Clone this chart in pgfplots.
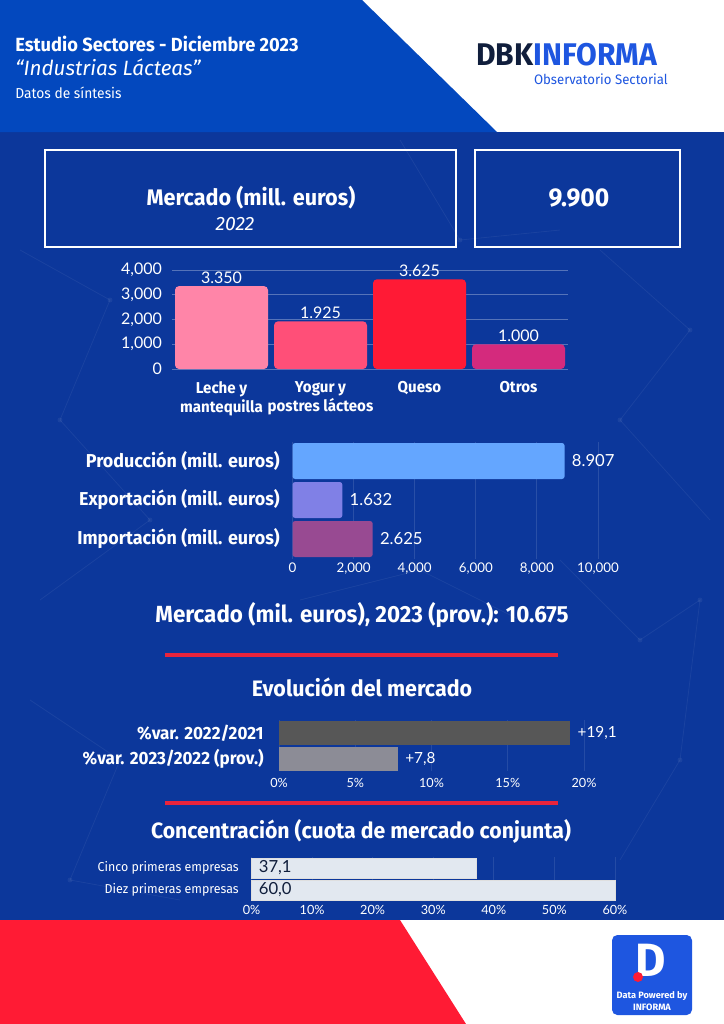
\documentclass[border=0pt]{standalone}
\usepackage{pgfplots}
\pgfplotsset{compat=1.18}
\usepackage{fontspec}
\setmainfont{Fira Sans}
\newfontfamily\cond[FakeStretch=0.96]{Fira Sans}
\newfontfamily\num{Lato}
\definecolor{topblue}{RGB}{3,72,190}
\definecolor{bgblue}{RGB}{12,55,155}
\definecolor{redb}{RGB}{255,27,52}
\definecolor{redline}{RGB}{232,36,60}
\definecolor{c1}{RGB}{255,133,168}
\definecolor{c2}{RGB}{255,79,120}
\definecolor{c3}{RGB}{255,26,53}
\definecolor{c4}{RGB}{212,42,125}
\definecolor{prod}{RGB}{100,166,255}
\definecolor{expo}{RGB}{128,128,230}
\definecolor{impo}{RGB}{152,74,146}
\definecolor{g1}{RGB}{87,87,87}
\definecolor{g2}{RGB}{140,140,150}
\definecolor{conc}{RGB}{226,232,240}
\definecolor{navy}{RGB}{16,30,60}
\definecolor{logoblue}{RGB}{30,86,224}
\pgfplotsset{
  base/.style={scale only axis, anchor=south west, clip=false,
    axis line style={draw=none}, major tick length=0pt,
    /pgf/number format/assume math mode=true,
    scaled x ticks=false, scaled y ticks=false},
}
\begin{document}
\begin{tikzpicture}[x=0.75pt,y=-0.75pt]
\useasboundingbox (0,0) rectangle (724,1024);
% backgrounds
\fill[white] (0,0) rectangle (724,1024);
\fill[bgblue] (0,132) rectangle (724,920);
% faint network texture
\begin{scope}[white, opacity=0.06, line width=0.6pt]
\draw (20,250) -- (110,300) -- (60,420) -- (150,520) -- (40,600);
\draw (600,250) -- (690,330) -- (620,420) -- (710,520);
\draw (560,560) -- (640,640) -- (700,600) -- (680,760) -- (620,860);
\draw (30,700) -- (120,760) -- (70,880) -- (180,900);
\draw (400,140) -- (460,240) -- (560,230);
\draw (300,600) -- (420,570) -- (520,620);
\foreach \p in {(110,300),(60,420),(150,520),(690,330),(620,420),(640,640),(700,600),(680,760),(120,760),(70,880),(460,240),(420,570)}
  \fill \p circle (2.5);
\end{scope}
\fill[topblue] (0,0) -- (362,0) -- (497,132) -- (0,132) -- cycle;
\fill[redb] (0,920) -- (400,920) -- (466,1024) -- (0,1024) -- cycle;
% header
\node[anchor=west, text=white, inner sep=0, font=\cond\bfseries\fontsize{14.3}{16}\selectfont] at (15,44) {Estudio Sectores - Diciembre 2023};
\node[anchor=west, text=white, inner sep=0, font=\itshape\fontsize{15.5}{17}\selectfont] at (15,67) {“Industrias Lácteas”};
\node[anchor=west, text=white, inner sep=0, font=\cond\fontsize{10.8}{12}\selectfont] at (15,93) {Datos de síntesis};
\node[anchor=west, inner sep=0, font=\cond\bfseries\fontsize{23.5}{24}\selectfont] at (476,55) {\textcolor{navy}{DBK}\textcolor{logoblue}{INFORMA}};
\node[anchor=east, inner sep=0, text=logoblue, font=\cond\fontsize{10.3}{11}\selectfont] at (668,79) {Observatorio Sectorial};
% boxes
\draw[white, line width=1.8pt] (45,150) rectangle (456,247);
\draw[white, line width=1.8pt] (475,150) rectangle (680,247);
\node[text=white, font=\cond\bfseries\fontsize{16.9}{18}\selectfont] at (251,198) {Mercado (mill. euros)};
\node[text=white, font=\itshape\fontsize{14.5}{16}\selectfont] at (235,224) {2022};
\node[text=white, font=\cond\bfseries\fontsize{19.3}{20}\selectfont] at (579,198) {9.900};
% titles and lines
\node[text=white, font=\cond\bfseries\fontsize{17.5}{19}\selectfont] at (362,615) {Mercado (mil. euros), 2023 (prov.): 10.675};
\draw[redline, line width=3pt] (165,655) -- (558,655);
\node[text=white, font=\cond\bfseries\fontsize{16.75}{18}\selectfont] at (362,687) {Evolución del mercado};
\draw[redline, line width=3pt] (165,803) -- (558,803);
\node[text=white, font=\cond\bfseries\fontsize{16.6}{18}\selectfont] at (361,831) {Concentración (cuota de mercado conjunta)};
% bottom logo
\fill[logoblue, rounded corners=4pt] (612,935) rectangle (692,1015);
\node[text=white, font=\bfseries\fontsize{35}{35}\selectfont, inner sep=0] at (651,960) {D};
\fill[redb] (638,977) circle (5);
\node[text=white, font=\bfseries\fontsize{6.9}{7}\selectfont, inner sep=0] at (652,996) {Data Powered by};
\node[text=white, font=\bfseries\fontsize{6.9}{7}\selectfont, inner sep=0] at (652,1007) {INFORMA};
% anchors
\coordinate (A1) at (172,369);
\coordinate (A2) at (292.5,558.5);
\coordinate (A3) at (279,771.25);
\coordinate (A4) at (251.5,901);
% chart 1
\begin{axis}[base, at={(A1)}, width=297pt, height=74.25pt,
  xmin=-0.5, xmax=3.5, ymin=0, ymax=4000, xtick={0,1,2,3},
  xticklabels={{Leche y\\mantequilla},{Yogur y\\postres lácteos},{Queso},{Otros}},
  xticklabel style={align=center, font=\cond\bfseries\fontsize{11.8}{14.5}\selectfont, text=white, yshift=-6pt},
  ytick={0,1000,2000,3000,4000},
  yticklabel style={font=\num\fontsize{12}{12}\selectfont, text=white, xshift=-4pt},
  ymajorgrids, grid style={white, opacity=0.3, line width=0.6pt},
  ybar, bar width=69.75pt,
  nodes near coords, point meta=explicit symbolic,
  nodes near coords style={font=\num\fontsize{12}{12}\selectfont, text=white, inner ysep=1.5pt}]
\addplot[fill=c1, draw=none, rounded corners=3pt, bar shift=0pt] coordinates {(0,3350) [3.350]};
\addplot[fill=c2, draw=none, rounded corners=3pt, bar shift=0pt] coordinates {(1,1925) [1.925]};
\addplot[fill=c3, draw=none, rounded corners=3pt, bar shift=0pt] coordinates {(2,3625) [3.625]};
\addplot[fill=c4, draw=none, rounded corners=3pt, bar shift=0pt] coordinates {(3,1000) [1.000]};
\end{axis}
% chart 2
\begin{axis}[base, at={(A2)}, width=229.1pt, height=87.75pt,
  xmin=0, xmax=10000, ymin=-0.5, ymax=2.5,
  ytick={0,1,2}, yticklabels={Importación (mill. euros),Exportación (mill. euros),Producción (mill. euros)},
  yticklabel style={font=\cond\bfseries\fontsize{14}{16}\selectfont, text=white, xshift=-6pt},
  xtick={0,2000,4000,6000,8000,10000},
  xticklabel style={font=\num\fontsize{10}{10}\selectfont, text=white},
  xmajorgrids, grid style={white, opacity=0.12, line width=0.6pt},
  xbar, bar width=27pt,
  nodes near coords, point meta=explicit symbolic,
  nodes near coords style={font=\num\fontsize{12.5}{12.5}\selectfont, text=white, anchor=west, xshift=2pt}]
\addplot[fill=prod, draw=none, rounded corners=2pt, bar shift=0pt] coordinates {(8907,2) [8.907]};
\addplot[fill=expo, draw=none, rounded corners=2pt, bar shift=0pt] coordinates {(1632,1) [1.632]};
\addplot[fill=impo, draw=none, rounded corners=2pt, bar shift=0pt] coordinates {(2625,0) [2.625]};
\end{axis}
% chart 3
\begin{axis}[base, at={(A3)}, width=228.75pt, height=38.25pt,
  xmin=0, xmax=20, ymin=-0.5, ymax=1.5,
  ytick={0,1}, yticklabels={{\%var. 2023/2022 (prov.)},{\%var. 2022/2021}},
  yticklabel style={font=\cond\bfseries\fontsize{13.3}{15}\selectfont, text=white, xshift=-8pt},
  xtick={0,5,10,15,20}, xticklabels={0\%,5\%,10\%,15\%,20\%},
  xticklabel style={font=\num\fontsize{9.5}{10}\selectfont, text=white, yshift=-2pt},
  xmajorgrids, grid style={white, opacity=0.1, line width=0.6pt},
  xbar, bar width=18pt,
  nodes near coords, point meta=explicit symbolic,
  nodes near coords style={font=\num\fontsize{11.5}{12}\selectfont, text=white, anchor=west, xshift=2pt}]
\addplot[fill=g1, draw=none, bar shift=0pt] coordinates {(19.1,1) [+19,1]};
\addplot[fill=g2, draw=none, bar shift=0pt] coordinates {(7.8,0) [+7,8]};
\end{axis}
% chart 4
\begin{axis}[base, at={(A4)}, width=272.6pt, height=33pt,
  xmin=0, xmax=60, ymin=-0.5, ymax=1.5,
  ytick={0,1}, yticklabels={Diez primeras empresas,Cinco primeras empresas},
  yticklabel style={font=\cond\fontsize{9.7}{11}\selectfont, text=white, xshift=-6pt},
  xtick={0,10,20,30,40,50,60}, xticklabels={0\%,10\%,20\%,30\%,40\%,50\%,60\%},
  xticklabel style={font=\num\fontsize{9.5}{10}\selectfont, text=white},
  xmajorgrids, grid style={white, opacity=0.1, line width=0.6pt},
  xbar, bar width=15pt,
  nodes near coords, point meta=explicit symbolic,
  nodes near coords style={font=\num\fontsize{12.5}{13}\selectfont, text=navy, anchor=west, xshift=2pt}]
\addplot[fill=conc, draw=white!75!gray, line width=0.6pt, bar shift=0pt, nodes near coords={}] coordinates {(37.1,1) [a] (60,0) [b]};
\addplot[draw=none, fill=none, bar shift=0pt] coordinates {(0,1) [37,1] (0,0) [60,0]};
\end{axis}
\end{tikzpicture}
\end{document}
